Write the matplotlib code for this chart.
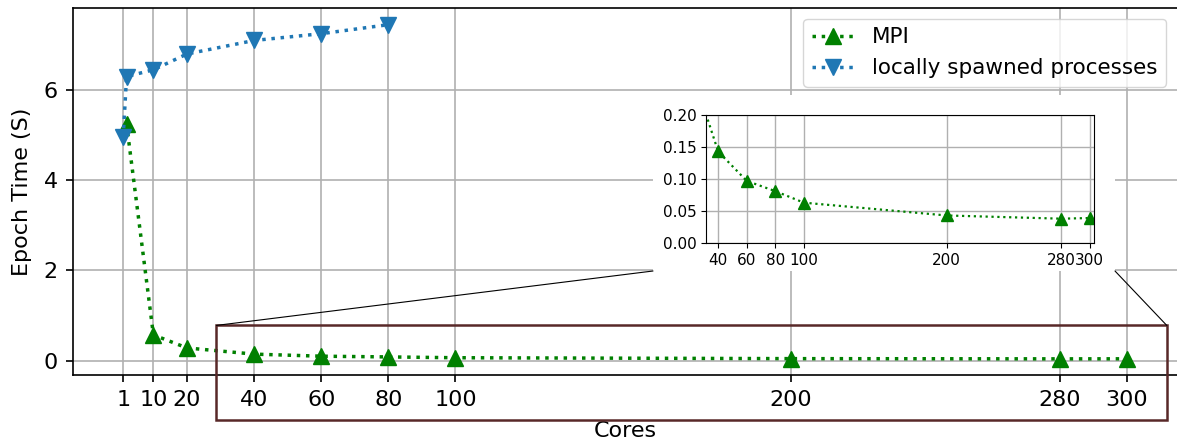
import matplotlib
matplotlib.use("Agg")
import matplotlib.pyplot as plt
from matplotlib.patches import Rectangle, ConnectionPatch

# ---- data ----
mpi_cores = [2, 10, 20, 40, 60, 80, 100, 200, 280, 300]
mpi_time = [5.25, 0.57, 0.28, 0.143, 0.097, 0.081, 0.063, 0.043, 0.038, 0.039]
local_cores = [1, 2, 10, 20, 40, 60, 80]
local_time = [4.95, 6.3, 6.45, 6.8, 7.1, 7.25, 7.45]
main_xticks = [1, 10, 20, 40, 60, 80, 100, 200, 280, 300]
inset_xticks = [40, 60, 80, 100, 200, 280, 300]
inset_yticks = [0.00, 0.05, 0.10, 0.15, 0.20]

W, H = 1177, 445
fig = plt.figure(figsize=(W / 100, H / 100), dpi=100)

def fx(px):
    return px / W

def fy(py):
    return 1 - py / H

ax = fig.add_axes([fx(73), fy(375), fx(1177) - fx(73), fy(8) - fy(375)])
ax.plot(mpi_cores, mpi_time, ':', color='green', marker='^', lw=2.5, ms=11, label='MPI')
ax.plot(local_cores, local_time, ':', color='#1f77b4', marker='v', lw=2.5, ms=11,
        label='locally spawned processes')
ax.set_xlim(-13.95, 314.95)
ax.set_ylim(-0.32, 7.82)
ax.set_xticks(main_xticks)
ax.set_yticks([0, 2, 4, 6])
ax.tick_params(labelsize=16, width=1.2, length=5, pad=6)
ax.grid(True, color='#b0b0b0', lw=1.2)
ax.set_xlabel('Cores', fontsize=16, labelpad=8)
ax.set_ylabel('Epoch Time (S)', fontsize=16, labelpad=8)
ax.spines['right'].set_visible(False)
for s in ['left', 'top', 'bottom']:
    ax.spines[s].set_linewidth(1.2)
leg = ax.legend(loc='upper right', fontsize=15.5)

# zoom rectangle in main axes
rect_x0, rect_x1, rect_y0, rect_y1 = 28.8, 311.9, -1.32, 0.78
ax.add_patch(Rectangle((rect_x0, rect_y0), rect_x1 - rect_x0, rect_y1 - rect_y0,
                       fill=False, edgecolor='#582828', lw=1.8, clip_on=False, zorder=5))

# white backing box for inset
box = Rectangle((fx(653), fy(271)), fx(1115) - fx(653), fy(95) - fy(271),
                transform=fig.transFigure, facecolor='white', edgecolor='none', zorder=1)
fig.patches.append(box)

# connectors
for xa, xb in [(rect_x0, 653), (rect_x1, 1115)]:
    cp = ConnectionPatch(xyA=(xa, rect_y1), coordsA=ax.transData,
                         xyB=(fx(xb), fy(271)), coordsB=fig.transFigure,
                         color='black', lw=0.8, zorder=6)
    fig.add_artist(cp)

# inset axes
axin = fig.add_axes([fx(706), fy(243), fx(1094) - fx(706), fy(115) - fy(243)], zorder=3)
axin.plot(mpi_cores, mpi_time, ':', color='green', marker='^', lw=1.6, ms=8)
axin.set_xlim(31.5, 303)
axin.set_ylim(0, 0.2)
axin.set_xticks(inset_xticks)
axin.set_yticks(inset_yticks)
axin.tick_params(labelsize=11)
axin.grid(True, color='#b0b0b0', lw=1.0)

fig.savefig('out.png', dpi=100)
